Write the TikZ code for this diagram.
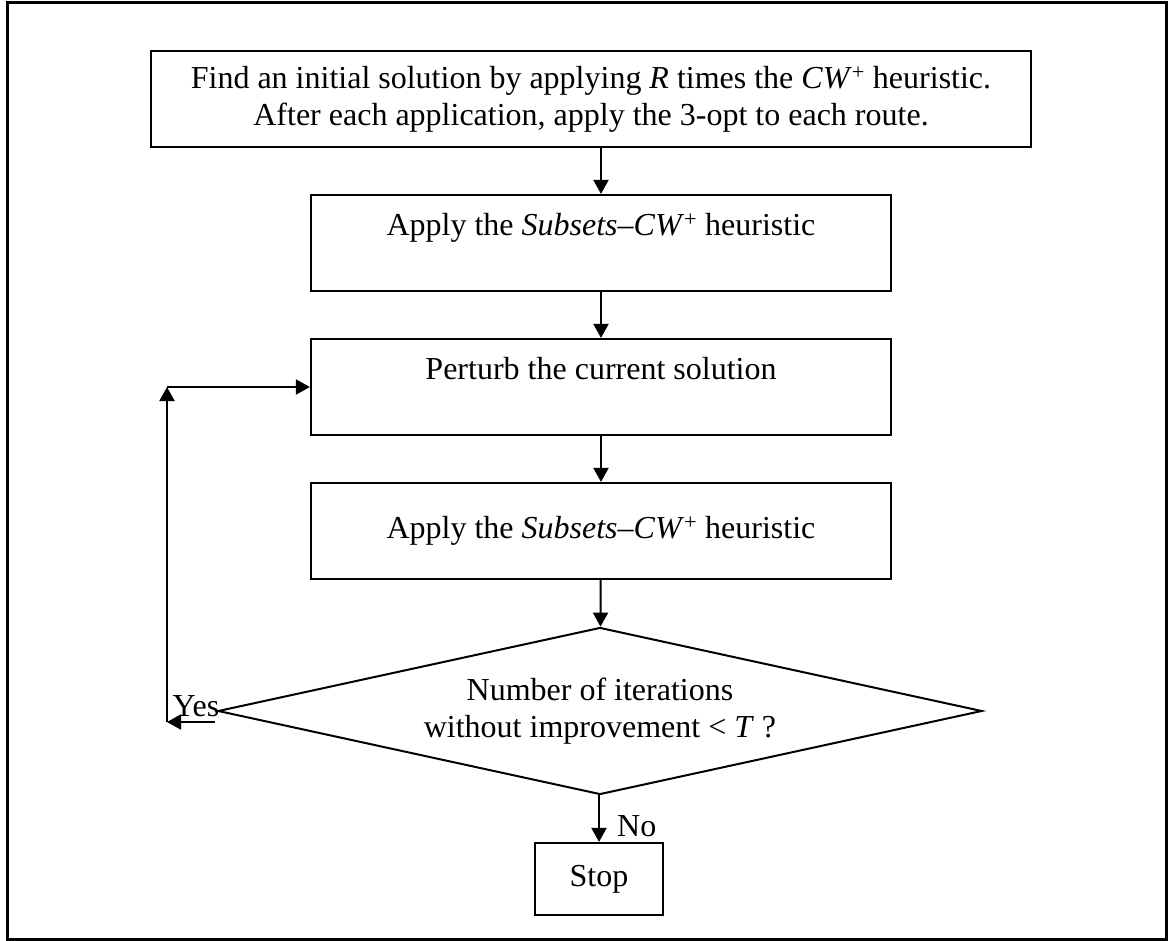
\documentclass[tikz,border=0pt]{standalone}
\usepackage{fontspec}
\setmainfont{Liberation Serif}
\usepackage{tikz}
\usetikzlibrary{arrows.meta,shapes.geometric}

\begin{document}
\begin{tikzpicture}[x=1pt,y=-1pt,>={Triangle[length=14pt,width=15pt]},
  procbox/.style={draw,line width=2.2pt,align=center,inner sep=0pt,font=\fontsize{32}{37}\selectfont},
  testbox/.style={draw,diamond,shape aspect=4.575,line width=2pt,align=center,inner sep=0pt,font=\fontsize{32}{37}\selectfont},
  flow/.style={->,line width=2pt},
  lbl/.style={inner sep=0pt,font=\fontsize{32}{37}\selectfont}]
% page frame (pixel grid, y downwards)
\useasboundingbox (0,0) rectangle (1173,941);
\draw[line width=3pt] (7,3) rectangle (1166,939);
% process boxes
\node[procbox,minimum width=880pt,minimum height=96pt] (init) at (591,99)
  {Find an initial solution by applying \textit{R} times the \textit{CW}\textsuperscript{+} heuristic.\\
   After each application, apply the 3-opt to each route.};
\node[procbox,minimum width=580pt,minimum height=96pt] (subA) at (601,243)
  {Apply the \textit{Subsets}–\textit{CW}\textsuperscript{+} heuristic\\ \mbox{}};
\node[procbox,minimum width=580pt,minimum height=96pt] (perturb) at (601,387)
  {Perturb the current solution\\ \mbox{}};
\node[procbox,minimum width=580pt,minimum height=96pt] (subB) at (601,531)
  {Apply the \textit{Subsets}–\textit{CW}\textsuperscript{+} heuristic};
% stopping test
\node[testbox,minimum width=764pt,minimum height=167pt] (test) at (600,711)
  {Number of iterations\\ without improvement < \textit{T} ?};
\node[procbox,minimum width=128pt,minimum height=72pt] (stop) at (599,879) {Stop};
% main flow
\draw[flow] (subA.north |- init.south) -- (subA.north);
\draw[flow] (subA) -- (perturb);
\draw[flow] (perturb) -- (subB);
\draw[flow] (subB) -- (test);
\draw[flow] (test.south) -- (stop.north |- test.south) -- (stop);
\node[lbl,anchor=west] (no) at (617,826) {No};
% loop back
\coordinate (yesA) at (215,722);
\coordinate (yesB) at (167,722);
\coordinate (yesC) at (167,387);
\node[lbl] (yes) at (196,706) {Yes};
\draw[flow] (yesA) -- (yesB);
\draw[flow] (yesB) -- (yesC);
\draw[flow] (yesC) -- (perturb.west);
\end{tikzpicture}
\end{document}
